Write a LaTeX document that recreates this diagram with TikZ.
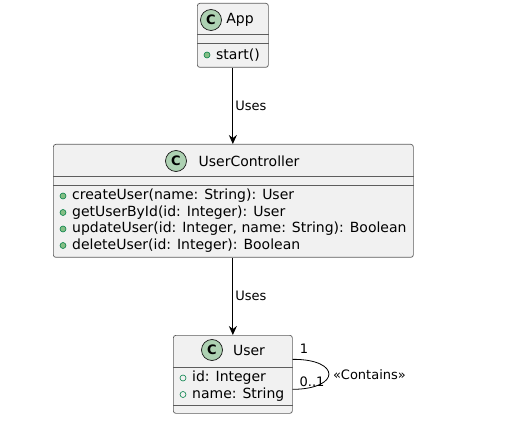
\documentclass[tikz,border=0pt]{standalone}
\usepackage{fontspec}
\setmainfont{DejaVu Sans}
\usepackage{xcolor}
\usepackage{tikz}
\usetikzlibrary{arrows.meta, positioning}
\definecolor{boxfill}{HTML}{F1F1F1}
\definecolor{boxline}{HTML}{181818}
\definecolor{spotfill}{HTML}{ADD1B2}
\definecolor{pubfill}{HTML}{84BE84}
\definecolor{publine}{HTML}{038048}
\tikzset{
    classbox/.style={rectangle, rounded corners=2.5pt, draw=boxline!70, fill=boxfill, line width=0.7pt, anchor=north west, inner sep=0pt},
    divider/.style={draw=boxline!70, line width=0.7pt},
    spot/.style={circle, draw=boxline, fill=spotfill, minimum size=21pt, inner sep=0pt, line width=0.7pt, font=\fontsize{13}{13}\selectfont\bfseries},
    cname/.style={font=\fontsize{14}{16}\selectfont, inner sep=0pt},
    member/.style={anchor=west, font=\fontsize{14}{16}\selectfont, inner sep=0pt},
    method/.style={circle, draw=publine, fill=pubfill, minimum size=6pt, inner sep=0pt, line width=0.6pt},
    field/.style={circle, draw=publine, fill=none, minimum size=6pt, inner sep=0pt, line width=0.6pt},
    uses/.style={-{Stealth[length=9pt, width=8pt, inset=3pt]}, line width=0.8pt, black},
    lbl/.style={font=\fontsize{13}{13}\selectfont, inner sep=0pt}
}

\begin{document}
\begin{tikzpicture}[x=1pt, y=-1pt]
    \useasboundingbox (0,0) rectangle (530,446);

    % App
    \node[classbox, minimum width=71pt, minimum height=64pt] (app) at (197,3) {};
    \draw[divider] (app.west |- 0,34) -- (app.east |- 0,34);
    \draw[divider] (app.west |- 0,43) -- (app.east |- 0,43);
    \node[spot] (appspot) at (211,20) {C};
    \node[cname] (appname) at (240,20) {App};
    \node[method] (appm1) at (207,55) {};
    \node[member] (appstart) at (216,55) {start()};

    % UserController
    \node[classbox, minimum width=360pt, minimum height=113pt] (ctrl) at (53,144) {};
    \draw[divider] (ctrl.west |- 0,176) -- (ctrl.east |- 0,176);
    \draw[divider] (ctrl.west |- 0,185) -- (ctrl.east |- 0,185);
    \node[spot] (ctrlspot) at (176,161) {C};
    \node[cname] (ctrlname) at (249,161) {UserController};
    \node[method] (ctrlm1) at (63,196) {};
    \node[member] (create) at (72,196) {createUser(name: String): User};
    \node[method] (ctrlm2) at (63,212.5) {};
    \node[member] (getbyid) at (72,212.5) {getUserById(id: Integer): User};
    \node[method] (ctrlm3) at (63,229) {};
    \node[member] (update) at (72,229) {updateUser(id: Integer, name: String): Boolean};
    \node[method] (ctrlm4) at (63,245.5) {};
    \node[member] (delete) at (72,245.5) {deleteUser(id: Integer): Boolean};

    % User
    \node[classbox, minimum width=119pt, minimum height=78pt] (user) at (173,335) {};
    \draw[divider] (user.west |- 0,367) -- (user.east |- 0,367);
    \draw[divider] (user.west |- 0,405) -- (user.east |- 0,405);
    \node[spot] (userspot) at (212,350) {C};
    \node[cname] (username) at (249,350) {User};
    \node[field] (userf1) at (183,378) {};
    \node[member] (userid) at (192,378) {id: Integer};
    \node[field] (userf2) at (183,394.5) {};
    \node[member] (uname) at (192,394.5) {name: String};

    % Connections
    \draw[uses] (app.south) -- node[lbl, anchor=west, xshift=2pt] {Uses} (app.south |- ctrl.north);
    \draw[uses] (user.north |- ctrl.south) -- node[lbl, anchor=west, xshift=2pt] {Uses} (user.north);

    % Self association
    \coordinate (loopout) at ([yshift=15pt]user.east);
    \coordinate (loopin) at ([yshift=-15pt]user.east);
    \draw[line width=0.8pt, black] (loopout) .. controls (341,359) and (341,389) .. (loopin);
    \node[lbl] (mult1) at (304,349) {1};
    \node[lbl] (mult2) at (312,382) {0..1};
    \node[lbl, anchor=west] (contains) at (333,375) {«Contains»};
\end{tikzpicture}
\end{document}
